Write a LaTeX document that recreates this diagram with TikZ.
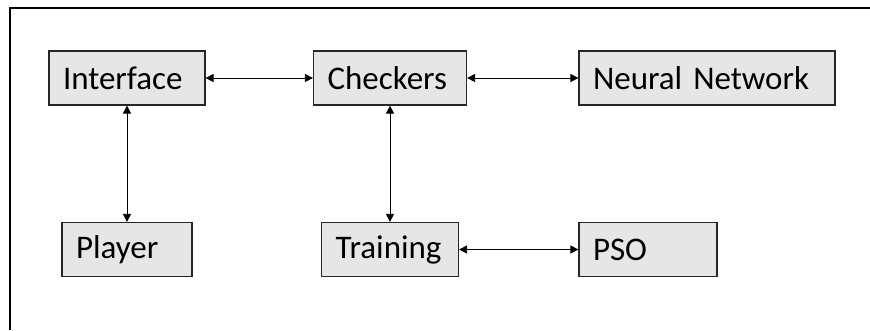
\documentclass[tikz,border=0pt]{standalone}
\usepackage{fontspec}
\setmainfont{Carlito}
\usepackage{xcolor}
\usetikzlibrary{arrows.meta,positioning,calc}
\definecolor{boxfill}{HTML}{E7E6E6}
\definecolor{boxline}{HTML}{262626}
\tikzset{
  frame/.style={line width=1.4pt, draw=black},
  blocknode/.style={draw=boxline, line width=1.2pt, fill=boxfill, text width=#1, align=left,
               minimum height=54pt, inner xsep=14pt, inner ysep=0pt,
               font=\fontsize{33}{38}\selectfont},
  link/.style={{Triangle[length=8pt,width=8pt]}-{Triangle[length=8pt,width=8pt]}, line width=0.8pt},
}
\def\yT{78}
\def\yB{249.5}
\begin{document}
\begin{tikzpicture}[x=1pt,y=-1pt]
  \useasboundingbox (0,0) rectangle (870,330);
  \draw[frame] (10,330) -- (10,8) -- (870,8);
  \node[blocknode=128pt] (iface) at (127,\yT) {Interface};
  \node[blocknode=125pt] (check) at (390,\yT) {Checkers};
  \node[blocknode=228pt] (nnet) at (707,\yT) {Neural Network};
  \node[blocknode=102pt] (player) at (127,\yB) {Player};
  \node[blocknode=109pt] (train) at (390,\yB) {Training};
  \node[blocknode=110pt] (pso) at (648,\yB) {PSO};
  \draw[link] (iface) -- (check);
  \draw[link] (check) -- (nnet);
  \draw[link] (iface) -- (player);
  \draw[link] (check) -- (train);
  \draw[link] (train) -- (pso);
\end{tikzpicture}
\end{document}
